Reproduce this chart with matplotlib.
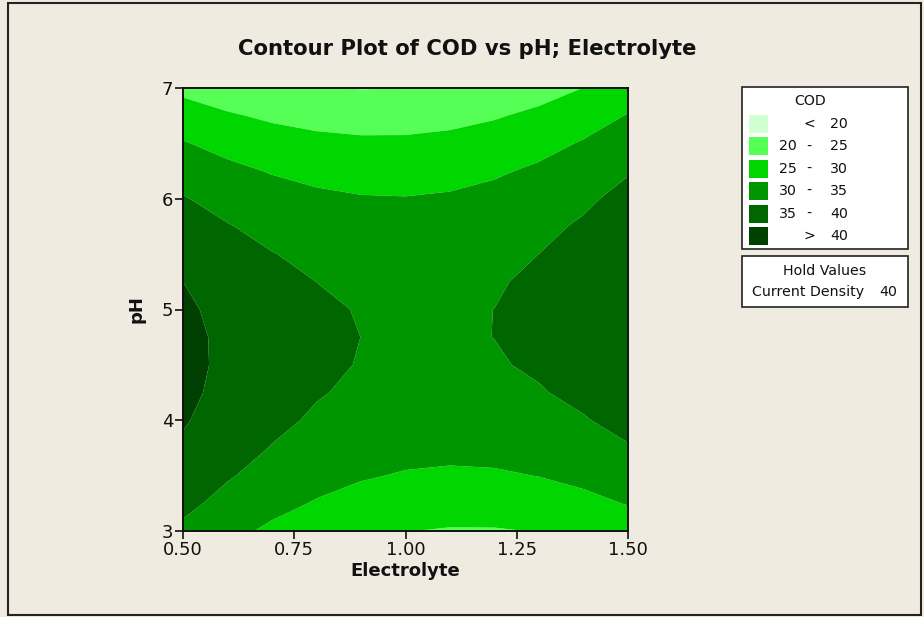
import numpy as np
import matplotlib
matplotlib.use("Agg")
import matplotlib.pyplot as plt
from matplotlib.patches import Rectangle

# Grid of COD values (rows: pH, columns: Electrolyte)
electrolyte = [0.5, 0.6, 0.7, 0.8, 0.9, 1.0, 1.1, 1.2, 1.3, 1.4, 1.5]
ph = [3.0, 3.25, 3.5, 3.75, 4.0, 4.25, 4.5, 4.75, 5.0,
      5.25, 5.5, 5.75, 6.0, 6.25, 6.5, 6.75, 7.0]
cod = [
    [34.05, 31.35, 29.11, 27.32, 25.98, 25.09, 24.66, 24.68, 25.15, 26.07, 27.44],
    [36.19, 33.56, 31.38, 29.66, 28.38, 27.56, 27.19, 27.27, 27.80, 28.79, 30.22],
    [37.97, 35.40, 33.29, 31.62, 30.41, 29.65, 29.35, 29.49, 30.09, 31.14, 32.64],
    [39.37, 36.87, 34.82, 33.22, 32.07, 31.38, 31.13, 31.34, 32.00, 33.12, 34.68],
    [40.40, 37.97, 35.98, 34.44, 33.36, 32.73, 32.55, 32.82, 33.55, 34.72, 36.35],
    [41.07, 38.69, 36.77, 35.29, 34.28, 33.71, 33.59, 33.93, 34.72, 35.96, 37.65],
    [41.36, 39.04, 37.18, 35.78, 34.82, 34.32, 34.26, 34.67, 35.52, 36.82, 38.58],
    [41.27, 39.03, 37.23, 35.89, 34.99, 34.55, 34.57, 35.03, 35.95, 37.32, 39.14],
    [40.82, 38.64, 36.90, 35.62, 34.80, 34.42, 34.50, 35.02, 36.00, 37.44, 39.32],
    [40.00, 37.88, 36.21, 34.99, 34.23, 33.92, 34.06, 34.65, 35.69, 37.19, 39.13],
    [38.80, 36.74, 35.14, 33.99, 33.29, 33.04, 33.24, 33.90, 35.01, 36.57, 38.58],
    [37.23, 35.24, 33.70, 32.61, 31.98, 31.79, 32.06, 32.78, 33.95, 35.57, 37.65],
    [35.30, 33.37, 31.89, 30.87, 30.29, 30.17, 30.50, 31.29, 32.52, 34.21, 36.35],
    [32.99, 31.12, 29.71, 28.75, 28.24, 28.18, 28.58, 29.43, 30.73, 32.48, 34.68],
    [30.31, 28.51, 27.16, 26.26, 25.82, 25.82, 26.28, 27.19, 28.56, 30.37, 32.64],
    [27.26, 25.52, 24.23, 23.40, 23.02, 23.09, 23.61, 24.59, 26.02, 27.89, 30.23],
    [23.83, 22.16, 20.94, 20.17, 19.85, 19.99, 20.57, 21.61, 23.10, 25.05, 27.44],
]
levels = [0, 20, 25, 30, 35, 40, 100]
legend_labels = [("", "<", "20"), ("20", "-", "25"), ("25", "-", "30"),
                 ("30", "-", "35"), ("35", "-", "40"), ("", ">", "40")]
xticks = [0.50, 0.75, 1.00, 1.25, 1.50]
yticks = [3, 4, 5, 6, 7]
hold_name = "Current Density"
hold_value = "40"

colors = ["#D2FFD2", "#55FF55", "#00D700", "#009600", "#006600", "#004000"]
bg = "#EFEBE1"
ink = "#111111"
W, H = 924, 617

plt.rcParams['font.family'] = ['DejaVu Sans']
fig = plt.figure(figsize=(W / 100, H / 100), dpi=100, facecolor=bg)

# outer frame
fig.patches.append(Rectangle((8 / W, 1 - 615 / H), (921 - 8) / W, (615 - 3) / H,
                             transform=fig.transFigure, fill=False,
                             edgecolor="#222222", linewidth=1.5))

ax = fig.add_axes([183 / W, 1 - 531 / H, (628 - 183) / W, (531 - 88) / H])
X, Y = np.meshgrid(electrolyte, ph)
ax.contourf(X, Y, np.array(cod), levels=levels, colors=colors, antialiased=True)
ax.set_xlim(0.5, 1.5)
ax.set_ylim(3, 7)
ax.set_xticks(xticks)
ax.set_xticklabels([f"{t:.2f}" for t in xticks])
ax.set_yticks(yticks)
ax.set_yticklabels([str(t) for t in yticks])
ax.tick_params(direction="out", length=6, width=1.2, labelsize=13, pad=1, colors=ink)
for s in ax.spines.values():
    s.set_linewidth(1.4)
    s.set_color(ink)
ax.set_xlabel("Electrolyte", fontsize=13, fontweight="bold", labelpad=2, color=ink)
ax.set_ylabel("pH", fontsize=13, fontweight="bold", labelpad=12, color=ink)

fig.text(467 / W, 1 - 49 / H, "Contour Plot of COD vs pH; Electrolyte",
         ha="center", va="center", fontsize=15.2, fontweight="bold", color=ink)

# legend box
fs = 10.2
fig.patches.append(Rectangle((742 / W, 1 - 249 / H), (908 - 742) / W, (249 - 87) / H,
                             transform=fig.transFigure, facecolor="white",
                             edgecolor="#222222", linewidth=1.2))
fig.text(810 / W, 1 - 101 / H, "COD", ha="center", va="center", fontsize=fs, color=ink)
for i, (c, (a, m, b)) in enumerate(zip(colors, legend_labels)):
    yc = 124 + i * 22.4
    fig.patches.append(Rectangle((749 / W, 1 - (yc + 9) / H), 19 / W, 18 / H,
                                 transform=fig.transFigure, facecolor=c, edgecolor="none"))
    fig.text(797 / W, 1 - yc / H, a, ha="right", va="center", fontsize=fs, color=ink)
    fig.text(809 / W, 1 - yc / H, m, ha="center", va="center", fontsize=fs, color=ink)
    fig.text(848 / W, 1 - yc / H, b, ha="right", va="center", fontsize=fs, color=ink)

# hold values box
fig.patches.append(Rectangle((742 / W, 1 - 307 / H), (908 - 742) / W, (307 - 256) / H,
                             transform=fig.transFigure, facecolor="white",
                             edgecolor="#222222", linewidth=1.2))
fig.text(825 / W, 1 - 271 / H, "Hold Values", ha="center", va="center", fontsize=fs, color=ink)
fig.text(752 / W, 1 - 292 / H, hold_name, ha="left", va="center", fontsize=fs, color=ink)
fig.text(897 / W, 1 - 292 / H, hold_value, ha="right", va="center", fontsize=fs, color=ink)

fig.savefig("out.png", dpi=100, facecolor=bg)
